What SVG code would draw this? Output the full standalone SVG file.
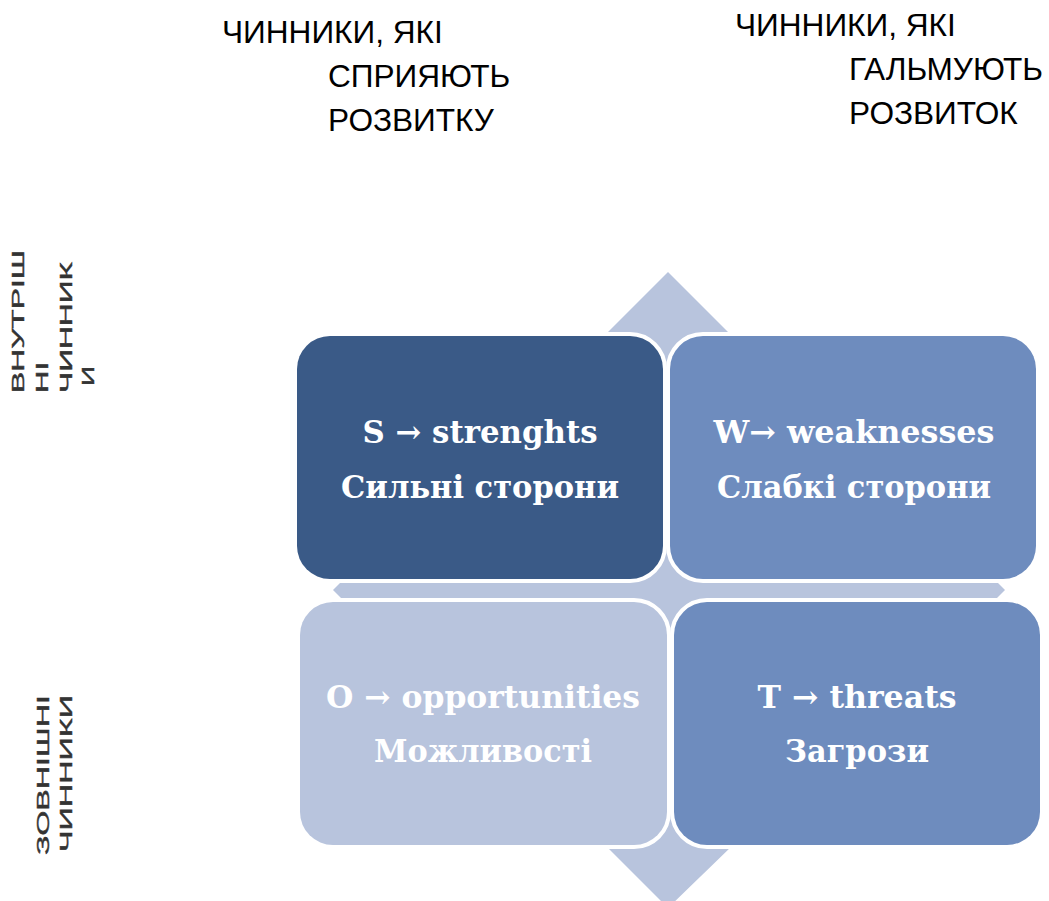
<svg xmlns="http://www.w3.org/2000/svg" width="1049" height="901" viewBox="0 0 1049 901">
<style>
.hdr{font-family:"Liberation Sans",Arial,sans-serif;font-size:31.6px;fill:#000}
.side{font-family:"Liberation Sans",Arial,sans-serif;font-size:16px;fill:#333;stroke:#333;stroke-width:0.4}
.box{stroke:#fff;stroke-width:8;paint-order:stroke}
.lbl{font-family:"DejaVu Serif Condensed","DejaVu Serif",serif;font-weight:bold;font-size:31px;fill:#fff}
.arr{fill:#B8C4DD}
</style>
<rect width="1049" height="901" fill="#fff"/>
<g id="header-left">
<text class="hdr" x="222" y="43">ЧИННИКИ, ЯКІ</text>
<text class="hdr" x="328" y="87">СПРИЯЮТЬ</text>
<text class="hdr" x="328" y="131">РОЗВИТКУ</text>
</g>
<g id="header-right">
<text class="hdr" x="735" y="36">ЧИННИКИ, ЯКІ</text>
<text class="hdr" x="849" y="80">ГАЛЬМУЮТЬ</text>
<text class="hdr" x="849" y="124">РОЗВИТОК</text>
</g>
<g id="side-internal">
<text class="side" transform="translate(24,393) rotate(-90)" textLength="143" lengthAdjust="spacingAndGlyphs">ВНУТРІШ</text>
<text class="side" transform="translate(48,393) rotate(-90)" textLength="31" lengthAdjust="spacingAndGlyphs">НІ</text>
<text class="side" transform="translate(72,393) rotate(-90)" textLength="131" lengthAdjust="spacingAndGlyphs">ЧИННИК</text>
<text class="side" transform="translate(94,386) rotate(-90)" textLength="20" lengthAdjust="spacingAndGlyphs">И</text>
</g>
<g id="side-external">
<text class="side" style="font-size:17px" transform="translate(49,855) rotate(-90)" textLength="160" lengthAdjust="spacingAndGlyphs">ЗОВНІШНІ</text>
<text class="side" style="font-size:17px" transform="translate(72,852) rotate(-90)" textLength="157" lengthAdjust="spacingAndGlyphs">ЧИННИКИ</text>
</g>
<g id="connectors">
<polygon class="arr" points="668,272 730,334 730,340 710,340 710,846 732,846 668,908 606,846 626,846 626,340 606,340 606,334"/>
<polygon class="arr" points="333,590 348,575 990,575 1005,590 990,605 348,605"/>
</g>
<g id="node-s">
<rect class="box" x="297" y="336" width="366" height="243" rx="33" fill="#3A5A87"/>
<text class="lbl" x="480" y="443" text-anchor="middle" textLength="235" lengthAdjust="spacingAndGlyphs">S → strenghts</text>
<text class="lbl" x="480" y="498" text-anchor="middle" textLength="278" lengthAdjust="spacingAndGlyphs">Сильні сторони</text>
</g>
<g id="node-w">
<rect class="box" x="670" y="336" width="366" height="243" rx="33" fill="#6E8CBE"/>
<text class="lbl" x="854" y="443" text-anchor="middle" textLength="281" lengthAdjust="spacingAndGlyphs">W→ weaknesses</text>
<text class="lbl" x="854" y="498" text-anchor="middle" textLength="274" lengthAdjust="spacingAndGlyphs">Слабкі сторони</text>
</g>
<g id="node-o">
<rect class="box" x="300" y="602" width="367" height="243" rx="33" fill="#B8C4DD"/>
<text class="lbl" x="483" y="708" text-anchor="middle" textLength="314" lengthAdjust="spacingAndGlyphs">O → opportunities</text>
<text class="lbl" x="483" y="762" text-anchor="middle" textLength="218" lengthAdjust="spacingAndGlyphs">Можливості</text>
</g>
<g id="node-t">
<rect class="box" x="674" y="602" width="366" height="243" rx="33" fill="#6E8CBE"/>
<text class="lbl" x="857" y="708" text-anchor="middle" textLength="199" lengthAdjust="spacingAndGlyphs">T → threats</text>
<text class="lbl" x="857" y="762" text-anchor="middle" textLength="144" lengthAdjust="spacingAndGlyphs">Загрози</text>
</g>
</svg>
